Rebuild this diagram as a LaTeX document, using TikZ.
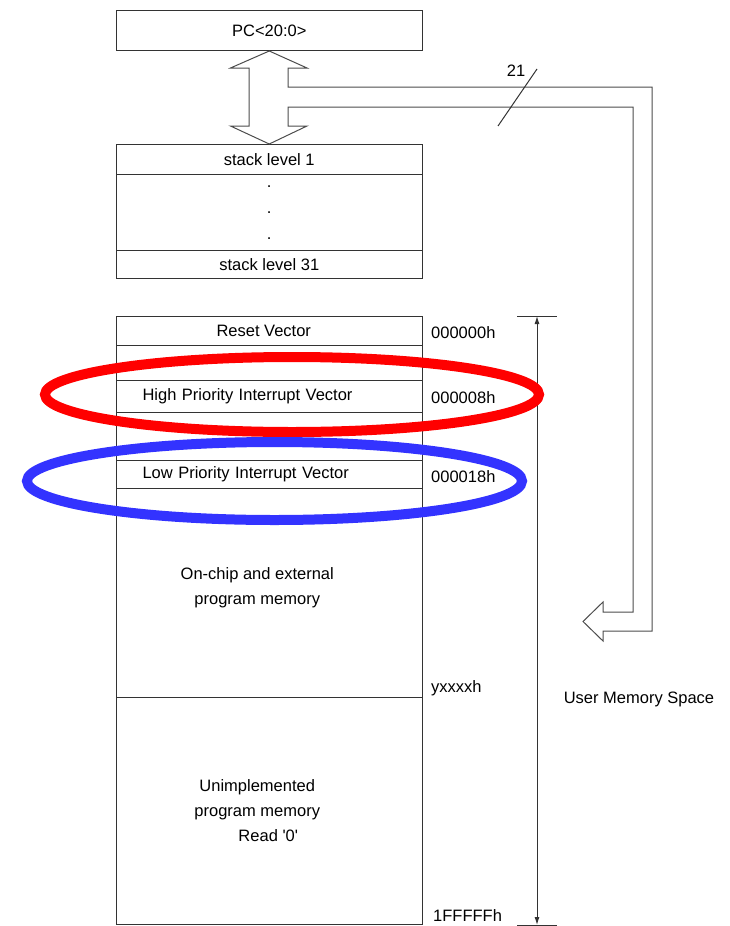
\documentclass[tikz,border=0pt]{standalone}
\usepackage{fontspec}
\setmainfont{Liberation Sans}
\usetikzlibrary{arrows.meta}
\definecolor{ringred}{RGB}{255,0,0}
\definecolor{ringblue}{RGB}{51,51,255}

\tikzset{
    memrow/.style={draw=black!80, line width=1pt, rectangle, minimum width=305.5pt,
        inner sep=0pt, anchor=north west, align=center},
    vecrow/.style={memrow, align=left, text width=253.5pt, inner xsep=26pt},
    addr/.style={anchor=west, inner sep=0pt},
    busline/.style={draw=black!70, line width=1pt, line join=miter},
    ring/.style={line width=10pt}
}

\begin{document}
\begin{tikzpicture}[x=1pt, y=-1pt, font=\fontsize{16.5}{25}\selectfont]
    \useasboundingbox (0,0) rectangle (729,926);

    % Program counter
    \node[memrow, minimum height=40pt] (pc) at (116,10) {PC<20:0>};

    % Return address stack
    \node[memrow, minimum height=30pt] (stack1) at (116,144) {stack level 1};
    \node[memrow, minimum height=76pt, font=\fontsize{16.5}{26}\selectfont] (stackdots) at (116,174) {.\\.\\.};
    \node[memrow, minimum height=28pt] (stack31) at (116,250) {stack level 31};

    % Program memory map
    \node[memrow, minimum height=29pt] (reset) at (116,316) {Reset Vector\hspace*{11pt}};
    \node[memrow, minimum height=35pt] (gap1) at (116,345) {};
    \node[vecrow, minimum height=32pt] (high) at (116,380) {High Priority Interrupt Vector};
    \node[memrow, minimum height=48pt] (gap2) at (116,412) {};
    \node[vecrow, minimum height=28pt] (low) at (116,460) {Low Priority Interrupt Vector};
    \node[memrow, minimum height=209pt] (onchip) at (116,488) {\raisebox{6pt}[\height][\depth]{\begin{tabular}{@{}c@{}}On-chip and external\\program memory\end{tabular}}\hspace*{24pt}};
    \node[memrow, minimum height=227pt] (unimpl) at (116,697) {\begin{tabular}{@{}c@{}}Unimplemented\\program memory\\\hspace*{22pt}Read {\textquotesingle}0{\textquotesingle}\end{tabular}\hspace*{24pt}};

    % Addresses
    \node[addr] (a0) at (431,333) {000000h};
    \node[addr] (a8) at (431,398) {000008h};
    \node[addr] (a18) at (431,477) {000018h};
    \node[addr] (ay) at (431,688) {yxxxxh};
    \node[addr] (aend) at (433,916) {1FFFFFh};

    % User memory span
    \coordinate (spantop) at (537,316);
    \coordinate (spanbot) at (537,925);
    \draw[black!80, line width=1pt] (517,316) -- (557,316);
    \draw[black!80, line width=1pt] (517,925) -- (557,925);
    \draw[black!80, line width=1pt, {Latex[length=8pt,width=5pt]}-{Latex[length=8pt,width=5pt]}] (spantop) -- (spanbot);
    \node (userspace) at (639,699) {User Memory Space};

    % Address bus between PC, stack and memory
    \draw[busline] (pc.south) -- (307,68) -- (288,68) -- (288,87) -- (652,87)
        -- (652,631) -- (603,631) -- (603,641) -- (583,621.5) -- (603,602)
        -- (603,612) -- (633,612) -- (633,107) -- (288,107) -- (288,126)
        -- (307,126) -- (stack1.north) -- (230.5,126) -- (249,126)
        -- (249,68) -- (230.5,68) -- cycle;

    % Bus width
    \coordinate (slashlo) at (498,126);
    \coordinate (slashhi) at (537,69);
    \draw[black!80, line width=1pt] (slashlo) -- (slashhi);
    \node (buswidth) at (516,71) {21};

    % Highlights
    \draw[ring, ringred] (292,394.5) ellipse [x radius=247pt, y radius=37.5pt];
    \draw[ring, ringblue] (274.5,481) ellipse [x radius=247.5pt, y radius=39pt];

\end{tikzpicture}
\end{document}
